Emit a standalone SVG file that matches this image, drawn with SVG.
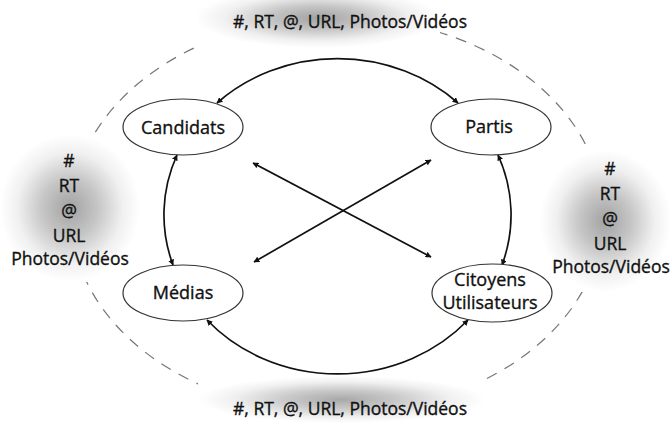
<svg xmlns="http://www.w3.org/2000/svg" width="671" height="423" viewBox="0 0 671 423">
<style>
.lbl{font-family:"Open Sans","Liberation Sans",sans-serif;font-size:17.5px;fill:#111;stroke:#111;stroke-width:0.35;text-anchor:middle}
.ntx{font-family:"Open Sans","Liberation Sans",sans-serif;font-size:18px;fill:#111;stroke:#111;stroke-width:0.35;text-anchor:middle}
.node{fill:#fff;stroke:#333;stroke-width:1.2}
.arc{fill:none;stroke:#111;stroke-width:1.7;marker-start:url(#ah);marker-end:url(#ah)}
.dash{fill:none;stroke:#777;stroke-width:1.2;stroke-dasharray:11 9}
</style>
<defs>
<radialGradient id="glow" cx="0.5" cy="0.5" r="0.5">
<stop offset="0" stop-color="#a2a2a2"/>
<stop offset="0.4" stop-color="#c6c6c6"/>
<stop offset="0.75" stop-color="#f0f0f0"/>
<stop offset="1" stop-color="#fff"/>
</radialGradient>
<radialGradient id="glowTop" cx="0.5" cy="0.3" r="0.5">
<stop offset="0" stop-color="#a2a2a2"/>
<stop offset="0.4" stop-color="#c6c6c6"/>
<stop offset="0.75" stop-color="#f0f0f0"/>
<stop offset="1" stop-color="#fff"/>
</radialGradient>
<radialGradient id="glowBot" cx="0.5" cy="0.5" r="0.5">
<stop offset="0" stop-color="#a8a8a8"/>
<stop offset="0.4" stop-color="#cacaca"/>
<stop offset="0.75" stop-color="#f0f0f0"/>
<stop offset="1" stop-color="#fff"/>
</radialGradient>
<marker id="ah" viewBox="0 0 10 10" refX="9" refY="5" markerWidth="6" markerHeight="6" markerUnits="userSpaceOnUse" orient="auto-start-reverse">
<path d="M0,0 L10,5 L0,10 z" fill="#111"/>
</marker>
</defs>
<rect width="671" height="423" fill="#fff"/>
<ellipse class="dash" cx="337" cy="215" rx="266" ry="198"/>
<g id="glows">
<rect x="195" y="0" width="245" height="60" fill="url(#glowTop)"/>
<rect x="0" y="134" width="140" height="148" fill="url(#glow)"/>
<rect x="540" y="150" width="131" height="142" fill="url(#glow)"/>
<rect x="198" y="376" width="287" height="47" fill="url(#glowBot)"/>
</g>
<g id="connectors">
<path class="arc" d="M217,103 A173,157 0 0 1 458,103"/>
<path class="arc" d="M498,155 A173,157 0 0 1 502,265"/>
<path class="arc" d="M468,320 A173,157 0 0 1 207,320"/>
<path class="arc" d="M173,265 A173,157 0 0 1 177,155"/>
<path class="arc" d="M253,163 L431,257"/>
<path class="arc" d="M254,262 L431,160"/>
</g>
<g id="candidats">
<ellipse class="node" cx="183" cy="127" rx="60" ry="28"/>
<text class="ntx" x="183" y="134">Candidats</text>
</g>
<g id="partis">
<ellipse class="node" cx="491" cy="127" rx="60" ry="28"/>
<text class="ntx" x="489" y="133">Partis</text>
</g>
<g id="medias">
<ellipse class="node" cx="183" cy="293" rx="60" ry="28"/>
<text class="ntx" x="183" y="299">Médias</text>
</g>
<g id="citoyens">
<ellipse class="node" cx="492" cy="293" rx="60" ry="29"/>
<text class="ntx" x="490" y="286">Citoyens</text>
<text class="ntx" x="490" y="309">Utilisateurs</text>
</g>
<g id="label-top">
<text class="lbl" x="350" y="28">#, RT, @, URL, Photos/Vidéos</text>
</g>
<g id="label-bottom">
<text class="lbl" x="350" y="415">#, RT, @, URL, Photos/Vidéos</text>
</g>
<g id="label-left">
<text class="lbl" x="69" y="167">#</text>
<text class="lbl" x="69" y="192">RT</text>
<text class="lbl" x="69" y="217">@</text>
<text class="lbl" x="69" y="242">URL</text>
<text class="lbl" x="70" y="265">Photos/Vidéos</text>
</g>
<g id="label-right">
<text class="lbl" x="610" y="175">#</text>
<text class="lbl" x="610" y="200">RT</text>
<text class="lbl" x="610" y="225">@</text>
<text class="lbl" x="610" y="250">URL</text>
<text class="lbl" x="611" y="273">Photos/Vidéos</text>
</g>
</svg>
